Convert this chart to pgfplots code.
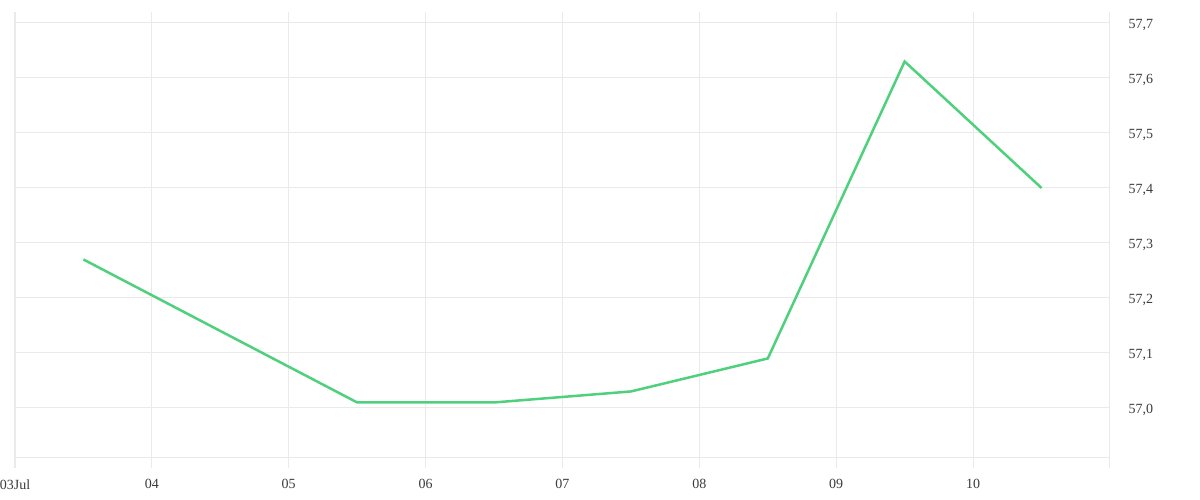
\documentclass[border=0pt]{standalone}
\usepackage{pgfplots}
\pgfplotsset{compat=1.18}
\usepackage{fontspec}
\setmainfont{Liberation Serif}
\definecolor{gridgray}{RGB}{234,234,234}
\definecolor{linegreen}{RGB}{78,208,124}
\definecolor{labelgray}{RGB}{60,60,60}
\begin{document}
\begin{tikzpicture}[x=1pt,y=1pt]
\useasboundingbox (0,0) rectangle (1200,500);
\begin{axis}[
    at={(15pt,42pt)},
    anchor=south west,
    scale only axis,
    width=1095pt,
    height=446pt,
    xmin=3, xmax=11,
    ymin=56.909, ymax=57.72,
    axis x line=bottom,
    axis y line=right,
    axis line style={-, draw=gridgray, line width=1pt},
    xtick={3,4,5,6,7,8,9,10,11},
    xticklabels={03Jul,04,05,06,07,08,09,10,},
    ytick={57.0,57.1,57.2,57.3,57.4,57.5,57.6,57.7},
    grid=major,
    major grid style={draw=gridgray, line width=1pt},
    x tick style={draw=gridgray, line width=1pt},
    major tick length=10pt,
    tick align=outside,
    y tick style={draw=none},
    /pgf/number format/.cd, fixed, fixed zerofill, precision=1, use comma, assume math mode=true,
    /pgfplots/.cd,
    tick label style={font=\fontsize{14}{16}\selectfont, text=labelgray},
    xticklabel style={yshift=-8pt},
    yticklabel style={anchor=west, xshift=5pt, yshift=-2pt},
]
\addplot[color=linegreen, line width=2.5pt, line join=miter] coordinates {
    (3.5,57.27)
    (5.5,57.01)
    (6.5,57.01)
    (7.5,57.03)
    (8.5,57.09)
    (9.5,57.63)
    (10.5,57.40)
};
\end{axis}
\end{tikzpicture}
\end{document}
